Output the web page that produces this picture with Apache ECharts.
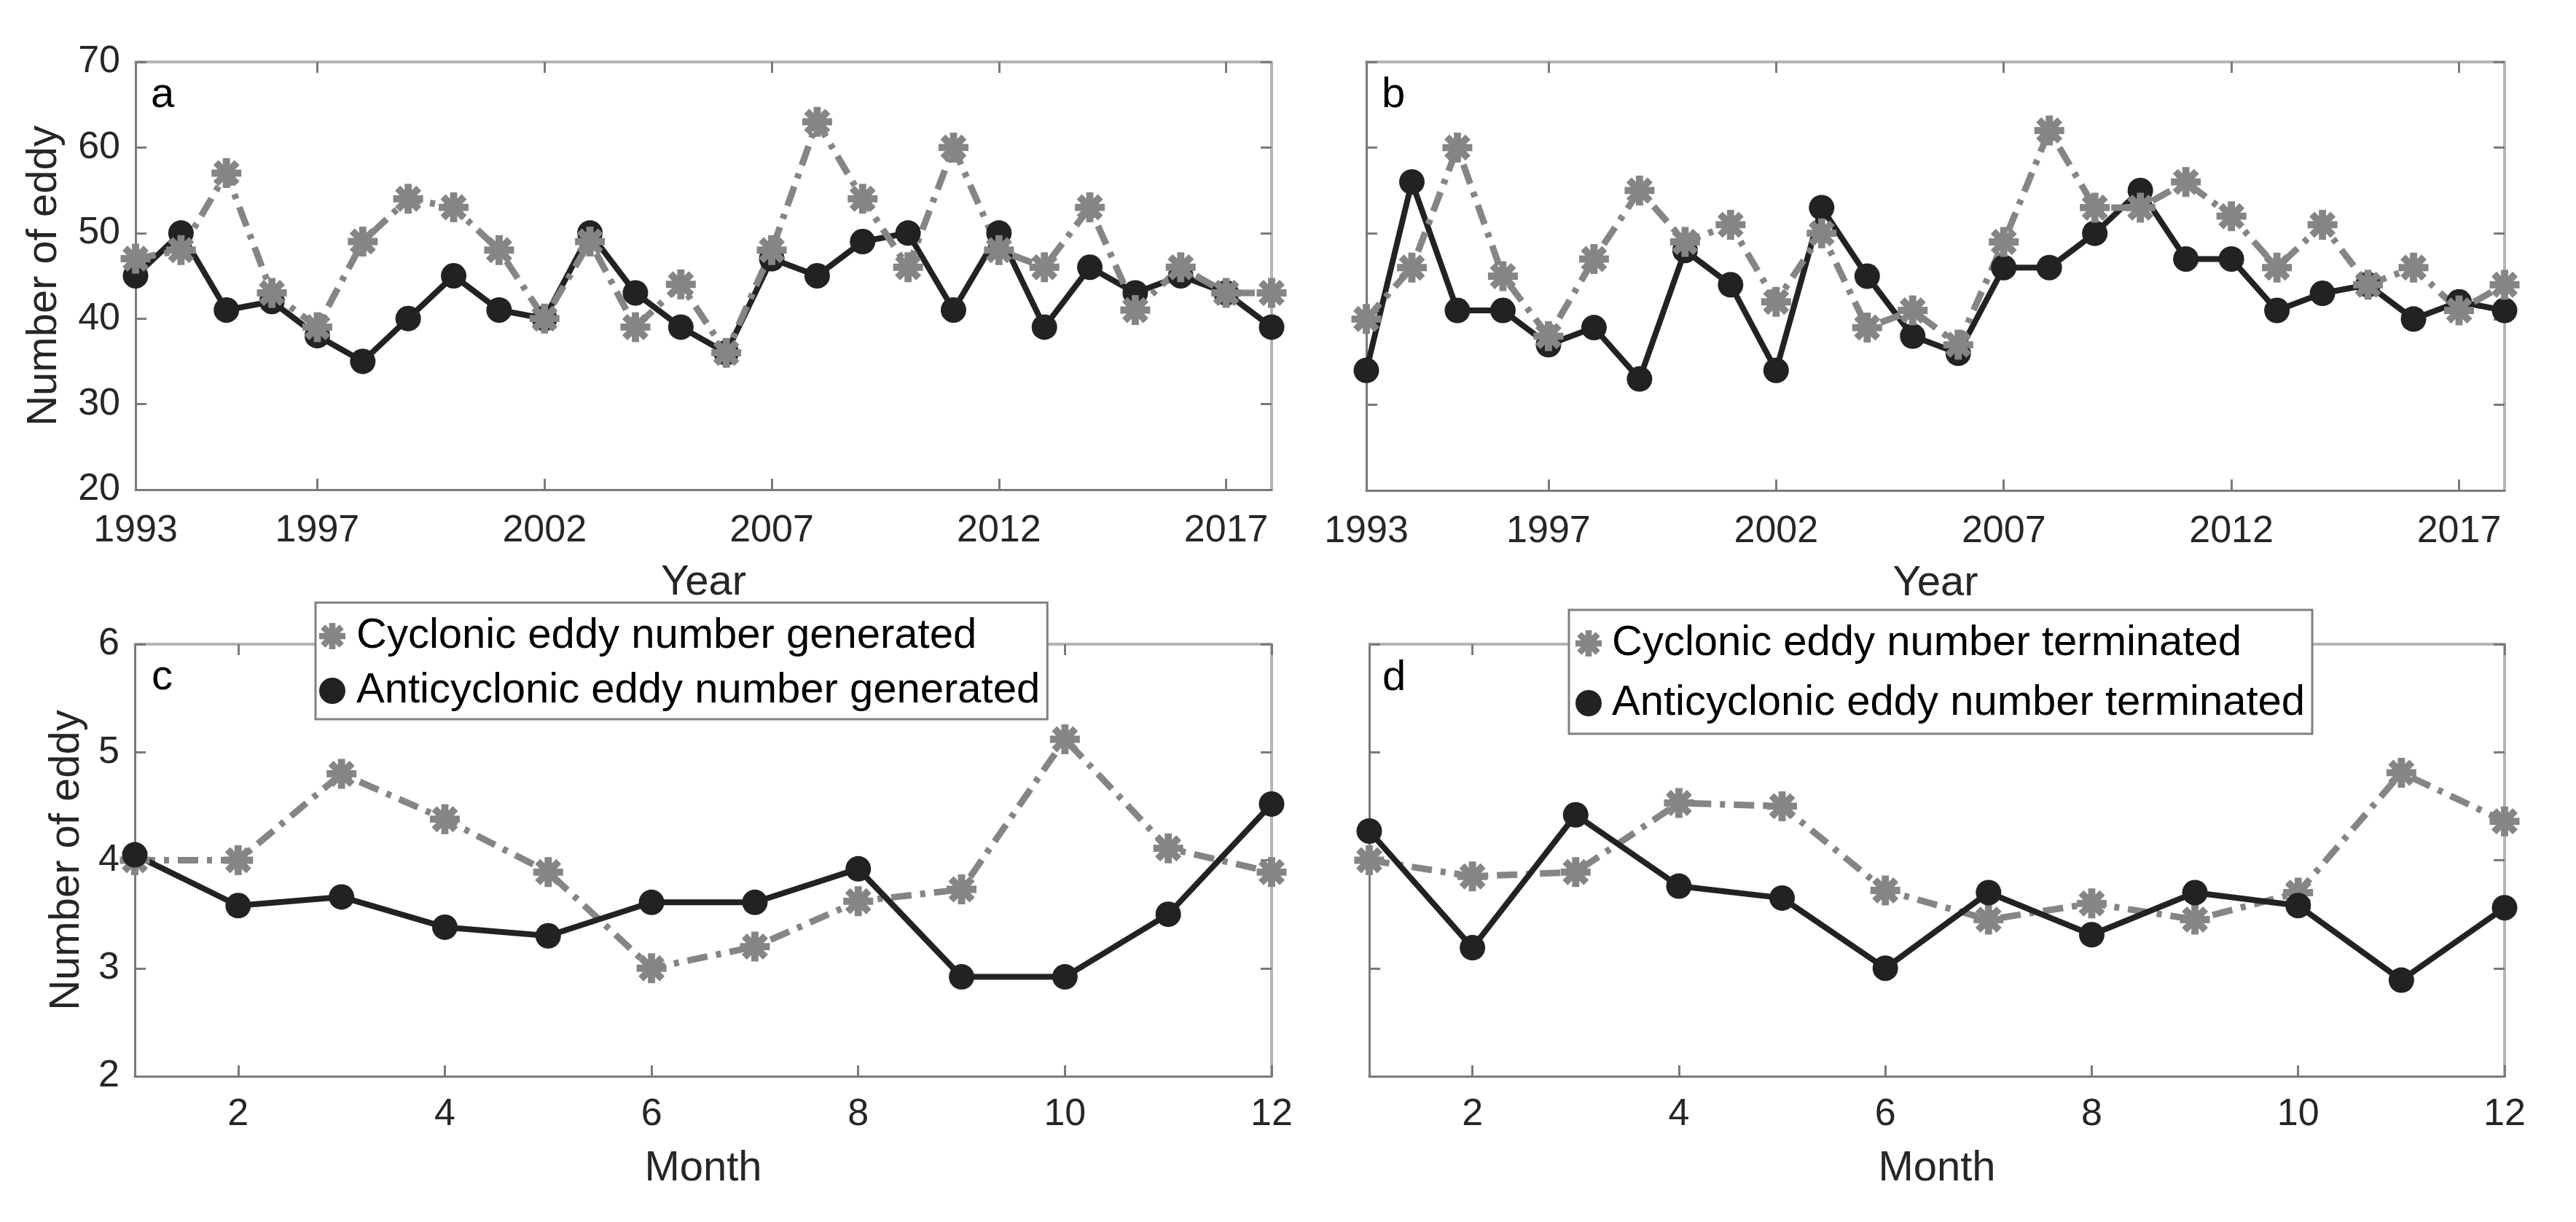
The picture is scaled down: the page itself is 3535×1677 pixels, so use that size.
<!DOCTYPE html>
<html>
<head>
<meta charset="utf-8">
<script src="https://cdn.jsdelivr.net/npm/echarts@6/dist/echarts.min.js"></script>
<style>
html,body{margin:0;padding:0;background:#fff;}
#chart{width:3535px;height:1677px;}
</style>
</head>
<body>
<div id="chart"></div>
<script>
// ---------- data ----------
const years = [1993,1994,1995,1996,1997,1998,1999,2000,2001,2002,2003,2004,2005,2006,2007,2008,2009,2010,2011,2012,2013,2014,2015,2016,2017,2018];
const months = [1,2,3,4,5,6,7,8,9,10,11,12];
const yearTickLabels = [1993,1997,2002,2007,2012,2017];
const monthTickLabels = [2,4,6,8,10,12];

const cycGenYear   = [47,48,57,43,39,49,54,53,48,40,49,39,44,36,48,63,54,46,60,48,46,53,41,46,43,43];
const antiGenYear  = [45,50,41,42,38,35,40,45,41,40,50,43,39,36,47,45,49,50,41,50,39,46,43,45,43,39];
const cycTermYear  = [40,46,60,45,38,47,55,49,51,42,50,39,41,37,49,62,53,53,56,52,46,51,44,46,41,44];
const antiTermYear = [34,56,41,41,37,39,33,48,44,34,53,45,38,36,46,46,50,55,47,47,41,43,44,40,42,41];

const cycGenMonth   = [4.00,4.00,4.80,4.38,3.89,3.00,3.20,3.62,3.73,5.12,4.11,3.89];
const antiGenMonth  = [4.05,3.58,3.66,3.38,3.30,3.61,3.61,3.92,2.92,2.92,3.50,4.52];
const cycTermMonth  = [4.00,3.85,3.89,4.53,4.50,3.72,3.45,3.60,3.45,3.70,4.81,4.36];
const antiTermMonth = [4.27,3.19,4.42,3.76,3.65,3.00,3.70,3.31,3.70,3.58,2.89,3.56];

const nameCycGen = 'Cyclonic eddy number generated';
const nameAntiGen = 'Anticyclonic eddy number generated';
const nameCycTerm = 'Cyclonic eddy number terminated';
const nameAntiTerm = 'Anticyclonic eddy number terminated';

// ---------- styles ----------
const FONT = '"Liberation Sans", Arial, Helvetica, sans-serif';
const AXC = '#7a7a7a';
const AXC2 = '#b4b4b4';
const TXT = '#262626';
const GRAY = '#858585';
const BLACK = '#222222';
const STAR = 'path://M0 38L100 38L100 62L0 62ZM38 0L62 0L62 100L38 100ZM23.13 6.15L93.85 76.87L76.87 93.85L6.15 23.13ZM6.15 76.87L76.87 6.15L93.85 23.13L23.13 93.85Z';

const grids = [
  {left:186, top:85, width:1559, height:587},
  {left:1875, top:85, width:1562, height:588},
  {left:185, top:884, width:1560, height:593},
  {left:1879, top:884, width:1558, height:593}
];

function pairs(xs, ys){ return xs.map((x,i)=>[x, ys[i]]); }

function bottomX(g, min, max, ticks, name, gap, margin){
  return {
    gridIndex:g, type:'value', position:'bottom', min:min, max:max,
    name:name, nameLocation:'middle', nameGap:gap,
    nameTextStyle:{fontSize:58, color:TXT, fontFamily:FONT},
    axisLine:{show:true, onZero:false, lineStyle:{color:AXC, width:3}},
    axisTick:{show:true, inside:true, length:15, customValues:ticks, lineStyle:{color:AXC, width:3}},
    axisLabel:{show:true, customValues:ticks, margin:margin, fontSize:52, color:TXT, fontFamily:FONT, formatter:v=>String(v)},
    splitLine:{show:false}
  };
}
function topX(g, min, max, ticks){
  return {
    gridIndex:g, type:'value', position:'top', min:min, max:max,
    axisLine:{show:true, onZero:false, lineStyle:{color:AXC2, width:4}},
    axisTick:{show:true, inside:true, length:15, customValues:ticks, lineStyle:{color:AXC, width:3}},
    axisLabel:{show:false},
    splitLine:{show:false}
  };
}
function leftY(g, min, max, interval, showLabel, name, gap){
  return {
    gridIndex:g, type:'value', position:'left', min:min, max:max, interval:interval,
    name: name || '', nameLocation:'middle', nameGap:gap || 0,
    nameTextStyle:{fontSize:58, color:TXT, fontFamily:FONT},
    axisLine:{show:true, onZero:false, lineStyle:{color:AXC, width:3}},
    axisTick:{show:true, inside:true, length:15, lineStyle:{color:AXC, width:3}},
    axisLabel:{show:showLabel, margin:21, fontSize:52, color:TXT, fontFamily:FONT},
    splitLine:{show:false}
  };
}
function rightY(g, min, max, interval){
  return {
    gridIndex:g, type:'value', position:'right', min:min, max:max, interval:interval,
    axisLine:{show:true, onZero:false, lineStyle:{color:AXC2, width:4}},
    axisTick:{show:true, inside:true, length:15, lineStyle:{color:AXC, width:3}},
    axisLabel:{show:false},
    splitLine:{show:false}
  };
}

function cycSeries(name, g, data){
  return {
    type:'line', name:name, xAxisIndex:2*g, yAxisIndex:2*g, data:data,
    symbol:STAR, symbolSize:41, clip:false,
    lineStyle:{color:GRAY, width:9, type:[28,12,7,12]},
    itemStyle:{color:GRAY},
    emphasis:{disabled:true}
  };
}
function antiSeries(name, g, data){
  return {
    type:'line', name:name, xAxisIndex:2*g, yAxisIndex:2*g, data:data,
    symbol:'circle', symbolSize:35, clip:false,
    lineStyle:{color:BLACK, width:8, type:'solid'},
    itemStyle:{color:BLACK},
    emphasis:{disabled:true}
  };
}

const option = {
  animation:false,
  backgroundColor:'#ffffff',
  grid: grids,
  xAxis: [
    bottomX(0, 1993, 2018, yearTickLabels, 'Year', 99, 31), topX(0, 1993, 2018, yearTickLabels),
    bottomX(1, 1993, 2018, yearTickLabels, 'Year', 99, 31), topX(1, 1993, 2018, yearTickLabels),
    bottomX(2, 1, 12, monthTickLabels, 'Month', 98, 27), topX(2, 1, 12, monthTickLabels),
    bottomX(3, 1, 12, monthTickLabels, 'Month', 98, 27), topX(3, 1, 12, monthTickLabels)
  ],
  yAxis: [
    leftY(0, 20, 70, 10, true, 'Number of eddy', 96), rightY(0, 20, 70, 10),
    leftY(1, 20, 70, 10, false), rightY(1, 20, 70, 10),
    leftY(2, 2, 6, 1, true, 'Number of eddy', 64), rightY(2, 2, 6, 1),
    leftY(3, 2, 6, 1, false), rightY(3, 2, 6, 1)
  ],
  legend: [
    {
      left:433, top:827, orient:'vertical', selectedMode:false,
      data:[{name:nameCycGen, icon:STAR},{name:nameAntiGen, icon:'circle'}],
      itemWidth:56, itemHeight:36, itemGap:15, padding:[16,10,9,5],
      textStyle:{fontSize:58, lineHeight:60, color:'#000', fontFamily:FONT},
      borderColor:'#808080', borderWidth:3, backgroundColor:'#ffffff', z:10
    },
    {
      left:2153, top:837, orient:'vertical', selectedMode:false,
      data:[{name:nameCycTerm, icon:STAR},{name:nameAntiTerm, icon:'circle'}],
      itemWidth:54, itemHeight:36, itemGap:22, padding:[16,10,12,9],
      textStyle:{fontSize:58, lineHeight:60, color:'#000', fontFamily:FONT},
      borderColor:'#808080', borderWidth:3, backgroundColor:'#ffffff', z:10
    }
  ],
  graphic: [
    {type:'text', left:207, top:102, style:{text:'a', font:'58px ' + FONT, fill:'#000'}},
    {type:'text', left:1896, top:102, style:{text:'b', font:'58px ' + FONT, fill:'#000'}},
    {type:'text', left:208, top:901, style:{text:'c', font:'58px ' + FONT, fill:'#000'}},
    {type:'text', left:1897, top:902, style:{text:'d', font:'58px ' + FONT, fill:'#000'}}
  ],
  series: [
    antiSeries(nameAntiGen, 0, pairs(years, antiGenYear)),
    cycSeries(nameCycGen, 0, pairs(years, cycGenYear)),
    antiSeries(nameAntiTerm, 1, pairs(years, antiTermYear)),
    cycSeries(nameCycTerm, 1, pairs(years, cycTermYear)),
    cycSeries(nameCycGen, 2, pairs(months, cycGenMonth)),
    antiSeries(nameAntiGen, 2, pairs(months, antiGenMonth)),
    cycSeries(nameCycTerm, 3, pairs(months, cycTermMonth)),
    antiSeries(nameAntiTerm, 3, pairs(months, antiTermMonth))
  ]
};

const chart = echarts.init(document.getElementById('chart'), null, {renderer:'canvas'});
chart.setOption(option);
</script>
</body>
</html>
